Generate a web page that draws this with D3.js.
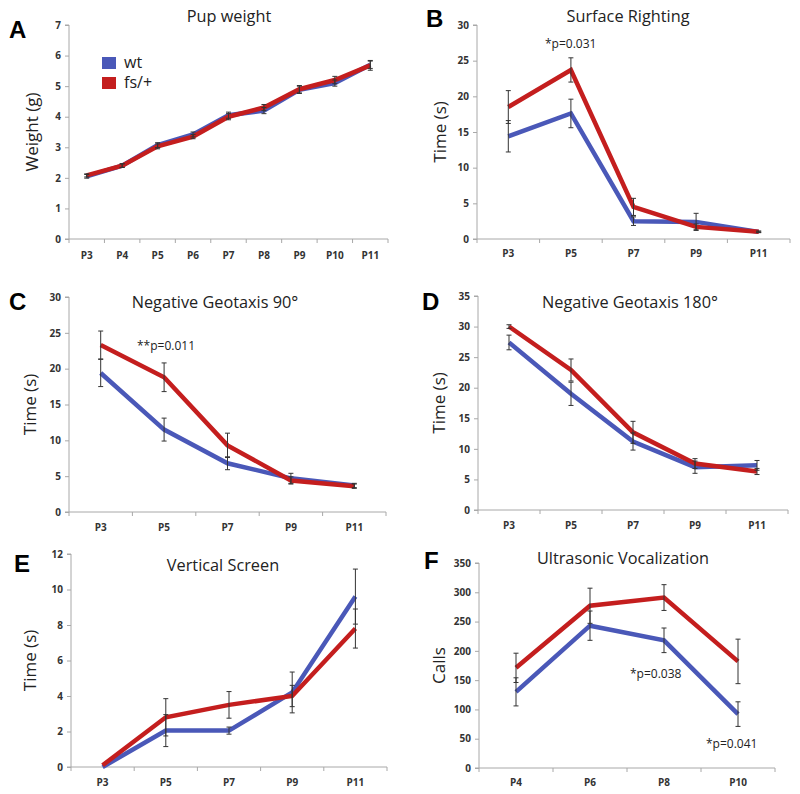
<!DOCTYPE html>
<html><head><meta charset="utf-8">
<script src="https://cdn.jsdelivr.net/npm/d3@7"></script>
<style>body{margin:0;background:#fff}svg{display:block}</style>
</head><body>
<script>
// ---------- DATA ----------
const catsOdd = ["P3","P5","P7","P9","P11"];
const catsA = ["P3","P4","P5","P6","P7","P8","P9","P10","P11"];
const catsF = ["P4","P6","P8","P10"];

const weightWt   = [2.05, 2.40, 3.07, 3.42, 4.05, 4.20, 4.88, 5.10, 5.70];
const weightWtErr= [0.06, 0.06, 0.08, 0.08, 0.10, 0.10, 0.12, 0.10, 0.12];
const weightFs   = [2.08, 2.40, 3.03, 3.35, 4.00, 4.30, 4.90, 5.20, 5.68];
const weightFsErr= [0.05, 0.06, 0.08, 0.07, 0.10, 0.10, 0.12, 0.12, 0.16];

const rightWt    = [14.4, 17.6, 2.5, 2.4, 1.0];
const rightWtErr = [2.2, 2.0, 0.6, 1.2, 0.1];
const rightFs    = [18.5, 23.7, 4.5, 1.7, 1.0];
const rightFsErr = [2.3, 1.7, 1.2, 0.4, 0.1];

const geo90Wt    = [19.4, 11.5, 6.8, 4.7, 3.7];
const geo90WtErr = [1.9, 1.6, 0.9, 0.7, 0.3];
const geo90Fs    = [23.3, 18.8, 9.3, 4.4, 3.6];
const geo90FsErr = [1.95, 2.0, 1.7, 0.5, 0.3];

const geo180Wt    = [27.4, 19.0, 11.2, 7.0, 7.3];
const geo180WtErr = [1.2, 1.9, 1.4, 1.0, 0.8];
const geo180Fs    = [30.0, 22.9, 12.7, 7.6, 6.3];
const geo180FsErr = [0.3, 1.8, 1.8, 0.8, 0.5];

const vertWt    = [0.0, 2.05, 2.05, 4.2, 9.6];
const vertWtErr = [0.0, 0.9, 0.2, 1.15, 1.55];
const vertFs    = [0.1, 2.8, 3.5, 4.0, 7.8];
const vertFsErr = [0.0, 1.05, 0.75, 0.6, 1.1];

const usvWt    = [130, 243, 218, 92];
const usvWtErr = [24, 25, 21, 21];
const usvFs    = [171, 277, 291, 182];
const usvFsErr = [25, 30, 22, 38];

const seriesNames = ["wt", "fs/+"];

// ---------- STYLE / LAYOUT ----------
const BLUE = "#4a58b8", RED = "#c41e1e", AXIS = "#a8a8a8";
const FONT = "'Open Sans', 'Noto Sans', sans-serif";

const svg = d3.select("body").append("svg").attr("width", 800).attr("height", 794);

const panels = [
  {letter:"A", lx:9, ly:38, title:"Pup weight", tx:229, ty:22, ylab:"Weight (g)", ylx:32,
   x0:69, x1:388, yb:239, yt:25, ymax:7, ystep:1, cats:catsA,
   wt:weightWt, wtE:weightWtErr, fs:weightFs, fsE:weightFsErr, xly:259, legend:true},
  {letter:"B", lx:426, ly:27, title:"Surface Righting", tx:628, ty:22, ylab:"Time (s)", ylx:440,
   x0:477, x1:790, yb:239, yt:25, ymax:30, ystep:5, cats:catsOdd,
   wt:rightWt, wtE:rightWtErr, fs:rightFs, fsE:rightFsErr, xly:257,
   notes:[{t:"*p=0.031", x:545, y:48}]},
  {letter:"C", lx:9, ly:310, title:"Negative Geotaxis 90°", tx:215, ty:308, ylab:"Time (s)", ylx:30,
   x0:69, x1:386, yb:512, yt:297, ymax:30, ystep:5, cats:catsOdd,
   wt:geo90Wt, wtE:geo90WtErr, fs:geo90Fs, fsE:geo90FsErr, xly:531,
   notes:[{t:"**p=0.011", x:137, y:350}]},
  {letter:"D", lx:422, ly:310, title:"Negative Geotaxis 180°", tx:630, ty:308, ylab:"Time (s)", ylx:439,
   x0:478, x1:788, yb:510, yt:296, ymax:35, ystep:5, cats:catsOdd,
   wt:geo180Wt, wtE:geo180WtErr, fs:geo180Fs, fsE:geo180FsErr, xly:529},
  {letter:"E", lx:14, ly:572, title:"Vertical Screen", tx:223, ty:571, ylab:"Time (s)", ylx:30,
   x0:71, x1:387, yb:767, yt:554, ymax:12, ystep:2, cats:catsOdd,
   wt:vertWt, wtE:vertWtErr, fs:vertFs, fsE:vertFsErr, xly:786},
  {letter:"F", lx:424, ly:569, title:"Ultrasonic Vocalization", tx:623, ty:564, ylab:"Calls", ylx:439,
   x0:479, x1:775, yb:768, yt:563, ymax:350, ystep:50, cats:catsF,
   wt:usvWt, wtE:usvWtErr, fs:usvFs, fsE:usvFsErr, xly:786,
   notes:[{t:"*p=0.038", x:630, y:678},{t:"*p=0.041", x:706, y:748}]}
];

panels.forEach(p => {
  const g = svg.append("g");
  const xb = d3.scaleBand().domain(p.cats).range([p.x0, p.x1]);
  const xc = c => xb(c) + xb.bandwidth()/2;
  const y = d3.scaleLinear().domain([0, p.ymax]).range([p.yb, p.yt]);

  // y axis
  const yAxis = d3.axisLeft(y).tickValues(d3.range(0, p.ymax + p.ystep/2, p.ystep))
    .tickSize(4).tickPadding(4).tickFormat(d3.format("d"));
  const ya = g.append("g").attr("transform", `translate(${p.x0},0)`).call(yAxis);
  ya.select(".domain").attr("stroke", AXIS).attr("d", `M-4,${p.yb}H0V${p.yt}H-4`);
  ya.selectAll(".tick line").attr("stroke", AXIS);
  ya.selectAll("text").attr("fill", "#333").attr("font-family", FONT)
    .attr("font-weight", "bold").attr("font-size", 10);

  // x axis: line with tick marks at band boundaries
  const xa = g.append("g");
  xa.append("line").attr("x1", p.x0).attr("x2", p.x1).attr("y1", p.yb).attr("y2", p.yb)
    .attr("stroke", AXIS);
  const bounds = p.cats.map(c => xb(c)).concat([p.x1]);
  xa.selectAll(".xt").data(bounds).join("line")
    .attr("x1", d => d).attr("x2", d => d).attr("y1", p.yb).attr("y2", p.yb + 4)
    .attr("stroke", AXIS);
  xa.selectAll(".xl").data(p.cats).join("text")
    .attr("x", d => xc(d)).attr("y", p.xly).attr("text-anchor", "middle")
    .attr("fill", "#333").attr("font-family", FONT).attr("font-weight", "bold")
    .attr("font-size", 10).text(d => d);

  // title, y label, panel letter
  g.append("text").attr("x", p.tx).attr("y", p.ty).attr("text-anchor", "middle")
    .attr("font-family", FONT).attr("font-size", 16.3).attr("fill", "#222").text(p.title);
  g.append("text").attr("transform", `translate(${p.ylx},${(p.yb + p.yt)/2}) rotate(-90)`)
    .attr("text-anchor", "middle").attr("dy", "0.35em")
    .attr("font-family", FONT).attr("font-size", 17).attr("fill", "#222").text(p.ylab);
  g.append("text").attr("x", p.lx).attr("y", p.ly)
    .attr("font-family", "'Liberation Sans', Arial, sans-serif").attr("font-weight", "bold")
    .attr("font-size", 24).attr("fill", "#000").text(p.letter);

  // series
  const series = [
    {vals:p.wt, errs:p.wtE, color:BLUE},
    {vals:p.fs, errs:p.fsE, color:RED}
  ];
  const line = d3.line().x((d,i) => xc(p.cats[i])).y(d => y(d));
  series.forEach(s => {
    g.append("path").datum(s.vals).attr("d", line).attr("fill", "none")
      .attr("stroke", s.color).attr("stroke-width", 4.5).attr("stroke-linejoin", "miter");
  });
  series.forEach(s => {
    const eb = g.append("g").attr("stroke", "#333").attr("stroke-width", 1);
    s.vals.forEach((v, i) => {
      const e = s.errs[i];
      if (!e) return;
      const cx = xc(p.cats[i]);
      eb.append("line").attr("x1", cx).attr("x2", cx).attr("y1", y(v - e)).attr("y2", y(v + e));
      eb.append("line").attr("x1", cx - 2.5).attr("x2", cx + 2.5).attr("y1", y(v - e)).attr("y2", y(v - e));
      eb.append("line").attr("x1", cx - 2.5).attr("x2", cx + 2.5).attr("y1", y(v + e)).attr("y2", y(v + e));
    });
  });

  (p.notes || []).forEach(n => {
    g.append("text").attr("x", n.x).attr("y", n.y).attr("font-family", FONT)
      .attr("font-size", 12).attr("fill", "#222").text(n.t);
  });

  if (p.legend) {
    const lg = g.append("g");
    [BLUE, RED].forEach((c, i) => {
      lg.append("rect").attr("x", 102).attr("y", 57 + i*20).attr("width", 14).attr("height", 12)
        .attr("fill", c);
      lg.append("text").attr("x", 124).attr("y", 68 + i*20).attr("font-family", FONT)
        .attr("font-size", 16).attr("fill", "#222").text(seriesNames[i]);
    });
  }
});
</script>
</body></html>
